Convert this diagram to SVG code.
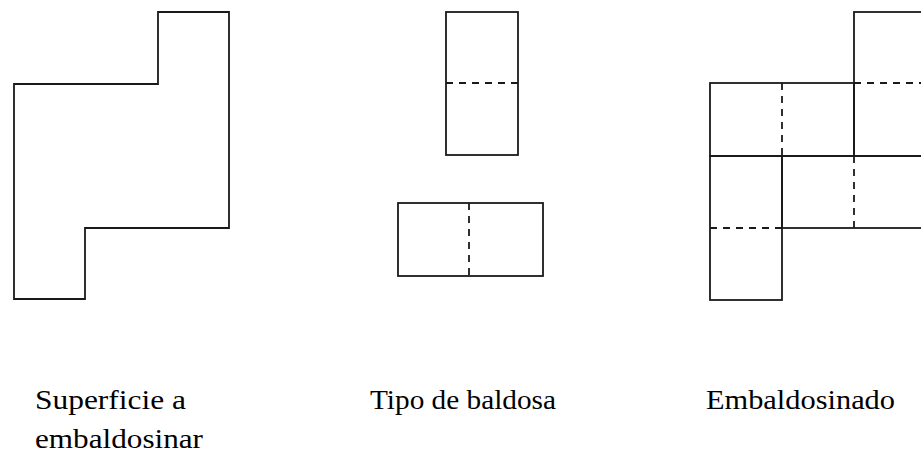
<svg xmlns="http://www.w3.org/2000/svg" width="921" height="456" viewBox="0 0 921 456">
<style>
.s{fill:none;stroke:#1a1a1a;stroke-width:1.8;stroke-linecap:square}
.d{fill:none;stroke:#1a1a1a;stroke-width:1.8;stroke-dasharray:7 6}
.t{font-family:"Liberation Serif","Times New Roman",serif;font-size:28px;fill:#000}
</style>
<rect width="921" height="456" fill="#fff"/>
<g id="superficie">
<polygon class="s" points="158,12 229,12 229,228 85,228 85,299 14,299 14,84 158,84"/>
</g>
<g id="tipo-baldosa">
<rect class="s" x="446" y="12" width="72" height="143"/>
<line class="d" x1="446" y1="83" x2="518" y2="83"/>
<rect class="s" x="398" y="203" width="145" height="73"/>
<line class="d" x1="469" y1="203" x2="469" y2="276"/>
</g>
<g id="embaldosinado">
<rect class="s" x="854" y="12" width="72" height="144"/>
<line class="d" x1="854" y1="83" x2="926" y2="83"/>
<rect class="s" x="710" y="83" width="144" height="73"/>
<line class="d" x1="782" y1="83" x2="782" y2="156"/>
<rect class="s" x="710" y="156" width="72" height="144"/>
<line class="d" x1="710" y1="228" x2="782" y2="228"/>
<rect class="s" x="782" y="156" width="144" height="72"/>
<line class="d" x1="854" y1="156" x2="854" y2="228"/>
</g>
<g id="labels">
<text class="t" x="35" y="409" textLength="151" lengthAdjust="spacingAndGlyphs">Superficie a</text>
<text class="t" x="35" y="448" textLength="168" lengthAdjust="spacingAndGlyphs">embaldosinar</text>
<text class="t" x="370" y="409" textLength="186" lengthAdjust="spacingAndGlyphs">Tipo de baldosa</text>
<text class="t" x="706" y="409" textLength="189" lengthAdjust="spacingAndGlyphs">Embaldosinado</text>
</g>
</svg>
